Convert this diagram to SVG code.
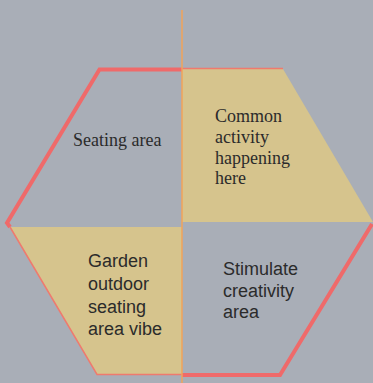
<svg xmlns="http://www.w3.org/2000/svg" width="373" height="383" viewBox="0 0 373 383">
<style>
.tan{fill:#d6c48d}
.gray{fill:#a9aeb7}
.thick{fill:none;stroke:#ef6a6a;stroke-width:4;stroke-linejoin:miter}
.thin{fill:none;stroke:#ef7a6e;stroke-width:1.5}
.serif{font-family:"Liberation Serif","Times New Roman",serif;font-size:18px;fill:#2b2b2b}
.sans{font-family:"Liberation Sans",Arial,sans-serif;font-size:18px;fill:#2b2b2b}
</style>
<rect width="373" height="383" fill="#a9aeb7"/>
<g id="seating-area">
<path class="thick" d="M182,69.5 L99.5,69.5 L7,223 L10,227"/>
<text class="serif" x="73" y="146">Seating area</text>
</g>
<g id="common-activity">
<path class="tan" d="M182,69 L283,69 L373,222 L182,222 Z"/>
<line class="thin" x1="182" y1="68.5" x2="283" y2="68.5" stroke="#ef6a6a"/>
<text class="serif" x="215" y="122">Common</text>
<text class="serif" x="215" y="143">activity</text>
<text class="serif" x="215" y="163.5">happening</text>
<text class="serif" x="215" y="184">here</text>
</g>
<g id="garden-outdoor">
<path class="tan" d="M10,227 L182,227 L182,374.5 L97,374.5 Z"/>
<path class="thin" d="M10,227 L97,374.5 L182,374.5"/>
<text class="sans" x="88" y="267">Garden</text>
<text class="sans" x="88" y="290">outdoor</text>
<text class="sans" x="88" y="312.5">seating</text>
<text class="sans" x="88" y="335">area vibe</text>
</g>
<g id="stimulate-creativity">
<path class="thick" d="M372,224 L280,375 L182,375"/>
<text class="sans" x="223" y="275">Stimulate</text>
<text class="sans" x="223" y="296.5">creativity</text>
<text class="sans" x="223" y="317.5">area</text>
</g>
<g id="connectors">
<line x1="182" y1="10" x2="182" y2="383" stroke="#f2a35a" stroke-width="1.5"/>
</g>
</svg>
